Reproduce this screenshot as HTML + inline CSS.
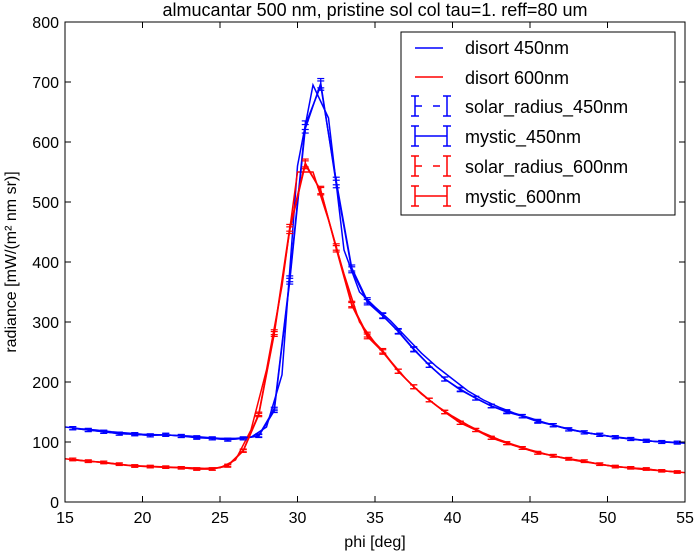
<!DOCTYPE html>
<html><head><meta charset="utf-8"><style>
body{margin:0;background:#fff}
svg text{font-family:"Liberation Sans","DejaVu Sans",sans-serif;fill:#000}
</style></head><body>
<svg width="694" height="551" id="c">
<rect x="0" y="0" width="694" height="551" fill="#fff"/>
<g id="plot"></g>
<g id="axes"></g>
<text x="375" y="16" font-size="18" text-anchor="middle">almucantar 500 nm, pristine sol col tau=1. reff=80 um</text>
<text x="375" y="547" font-size="16" text-anchor="middle">phi [deg]</text>
<text transform="translate(16,262) rotate(-90)" font-size="16" text-anchor="middle">radiance [mW/(m² nm sr)]</text>
<g>
<rect x="401" y="32" width="274" height="183" fill="#fff" stroke="#000" stroke-width="1"/>
<line x1="415" y1="48" x2="443" y2="48" stroke="#00f" stroke-width="1.5"/>
<text x="465" y="54" font-size="18">disort 450nm</text>
<line x1="415" y1="77" x2="443" y2="77" stroke="#f00" stroke-width="1.5"/>
<text x="465" y="84" font-size="18">disort 600nm</text>
<g stroke="#00f" stroke-width="1.5"><line x1="415" y1="96" x2="415" y2="116"/><line x1="447" y1="96" x2="447" y2="116"/><line x1="415" y1="106" x2="422" y2="106"/><line x1="433" y1="106" x2="440" y2="106"/><line x1="411" y1="96" x2="419" y2="96"/><line x1="411" y1="116" x2="419" y2="116"/><line x1="443" y1="96" x2="451" y2="96"/><line x1="443" y1="116" x2="451" y2="116"/></g>
<text x="465" y="113" font-size="18">solar_radius_450nm</text>
<g stroke="#00f" stroke-width="1.5"><line x1="415" y1="126" x2="415" y2="146"/><line x1="447" y1="126" x2="447" y2="146"/><line x1="415" y1="136" x2="447" y2="136"/><line x1="411" y1="126" x2="419" y2="126"/><line x1="411" y1="146" x2="419" y2="146"/><line x1="443" y1="126" x2="451" y2="126"/><line x1="443" y1="146" x2="451" y2="146"/></g>
<text x="465" y="143" font-size="18">mystic_450nm</text>
<g stroke="#f00" stroke-width="1.5"><line x1="415" y1="156" x2="415" y2="176"/><line x1="447" y1="156" x2="447" y2="176"/><line x1="415" y1="166" x2="422" y2="166"/><line x1="433" y1="166" x2="440" y2="166"/><line x1="411" y1="156" x2="419" y2="156"/><line x1="411" y1="176" x2="419" y2="176"/><line x1="443" y1="156" x2="451" y2="156"/><line x1="443" y1="176" x2="451" y2="176"/></g>
<text x="465" y="173" font-size="18">solar_radius_600nm</text>
<g stroke="#f00" stroke-width="1.5"><line x1="415" y1="186" x2="415" y2="206"/><line x1="447" y1="186" x2="447" y2="206"/><line x1="415" y1="196" x2="447" y2="196"/><line x1="411" y1="186" x2="419" y2="186"/><line x1="411" y1="206" x2="419" y2="206"/><line x1="443" y1="186" x2="451" y2="186"/><line x1="443" y1="206" x2="451" y2="206"/></g>
<text x="465" y="203" font-size="18">mystic_600nm</text>
</g>
</svg>
<script>
const xTicks=[15,20,25,30,35,40,45,50,55];
const yTicks=[0,100,200,300,400,500,600,700,800];
const mysticX=[15.5,16.5,17.5,18.5,19.5,20.5,21.5,22.5,23.5,24.5,25.5,26.5,27.5,28.5,29.5,30.5,31.5,32.5,33.5,34.5,35.5,36.5,37.5,38.5,39.5,40.5,41.5,42.5,43.5,44.5,45.5,46.5,47.5,48.5,49.5,50.5,51.5,52.5,53.5,54.5];
const mystic450=[123,120,117,114,113,111,112,110,108,106,104,106,110,152,368,622,698,530,387,333,310,285,255,228,205,188,173,160,150,143,135,128,121,116,112,108,105,102,100,99];
const solar450=[123,120,117,114,113,111,112,110,107,106,104,106,111,155,372,628,694,535,390,336,311,284,254,228,205,187,173,160,151,143,134,128,121,116,112,108,105,102,100,99];
const mystic600=[71,68,66,63,60,59,58,57,55,55,60,85,145,280,453,562,520,422,328,276,250,218,192,170,150,132,120,107,98,90,82,77,72,68,63,59,57,55,52,50];
const solar600=[71,68,66,63,60,59,58,57,55,55,61,86,147,283,457,565,518,425,330,279,252,218,192,170,150,132,120,107,98,90,82,77,72,68,63,59,57,55,52,50];
const disortX=[15,16,17,18,19,20,21,22,23,24,25,26,27,28,29,30,31,32,33,34,35,36,37,38,39,40,41,42,43,44,45,46,47,48,49,50,51,52,53,54,55];
const disort450=[125,122,120,117,115,113,112,111,110,108,106,106,108,125,212,560,695,640,420,350,325,302,275,248,225,205,185,170,158,148,140,132,125,119,114,110,107,104,101,100,98];
const disort600=[72,69,67,64,61,60,59,58,57,56,57,70,120,220,360,550,550,470,380,300,265,235,205,180,160,143,128,115,104,95,87,80,74,69,65,61,58,55,53,51,49];
const NS='http://www.w3.org/2000/svg';
const L=65,R=685,T=22,B=502;
const sx=v=>L+(v-15)/(55-15)*(R-L);
const sy=v=>B-(v/800)*(B-T);
const plot=document.getElementById('plot'),axes=document.getElementById('axes');
function mk(p,tag,a){const e=document.createElementNS(NS,tag);for(const k in a)e.setAttribute(k,a[k]);p.appendChild(e);return e;}
function line(xs,ys,color,name){
  const el=mk(plot,'polyline',{points:xs.map((x,i)=>sx(x)+','+sy(ys[i])).join(' '),fill:'none',stroke:color,'stroke-width':1.5});
  
  
}
function errs(xs,ys,color,name){
  const g=mk(plot,'g',{stroke:color,'stroke-width':1.2});
  
  
  xs.forEach((x,i)=>{const e=1.5+0.009*ys[i];const X=sx(x),y1=sy(ys[i]+e),y2=sy(ys[i]-e);
    mk(g,'line',{x1:X,x2:X,y1:y1,y2:y2});mk(g,'line',{x1:X-3.5,x2:X+3.5,y1:y1,y2:y1});mk(g,'line',{x1:X-3.5,x2:X+3.5,y1:y2,y2:y2});});
}
line(disortX,disort450,'#00f','disort-450-line');
line(disortX,disort600,'#f00','disort-600-line');
line(mysticX,solar450,'#00f','solar-radius-450-line');errs(mysticX,solar450,'#00f','solar-radius-450-errorbars');
line(mysticX,mystic450,'#00f','mystic-450-line');errs(mysticX,mystic450,'#00f','mystic-450-errorbars');
line(mysticX,solar600,'#f00','solar-radius-600-line');errs(mysticX,solar600,'#f00','solar-radius-600-errorbars');
line(mysticX,mystic600,'#f00','mystic-600-line');errs(mysticX,mystic600,'#f00','mystic-600-errorbars');
const fr=mk(axes,'rect',{x:L,y:T,width:R-L,height:B-T,fill:'none',stroke:'#000','stroke-width':1});


xTicks.forEach(t=>{const X=sx(t);
  mk(axes,'line',{x1:X,x2:X,y1:B,y2:B-6,stroke:'#000'});mk(axes,'line',{x1:X,x2:X,y1:T,y2:T+6,stroke:'#000'});
  const tx=mk(axes,'text',{x:X,y:B+21,'font-size':16,'text-anchor':'middle'});tx.textContent=t;
  
  });
yTicks.forEach(t=>{const Y=sy(t);
  mk(axes,'line',{x1:L,x2:L+6,y1:Y,y2:Y,stroke:'#000'});mk(axes,'line',{x1:R,x2:R-6,y1:Y,y2:Y,stroke:'#000'});
  const tx=mk(axes,'text',{x:L-6,y:Y+6,'font-size':16,'text-anchor':'end'});tx.textContent=t;
  
  });
</script>
</body></html>
